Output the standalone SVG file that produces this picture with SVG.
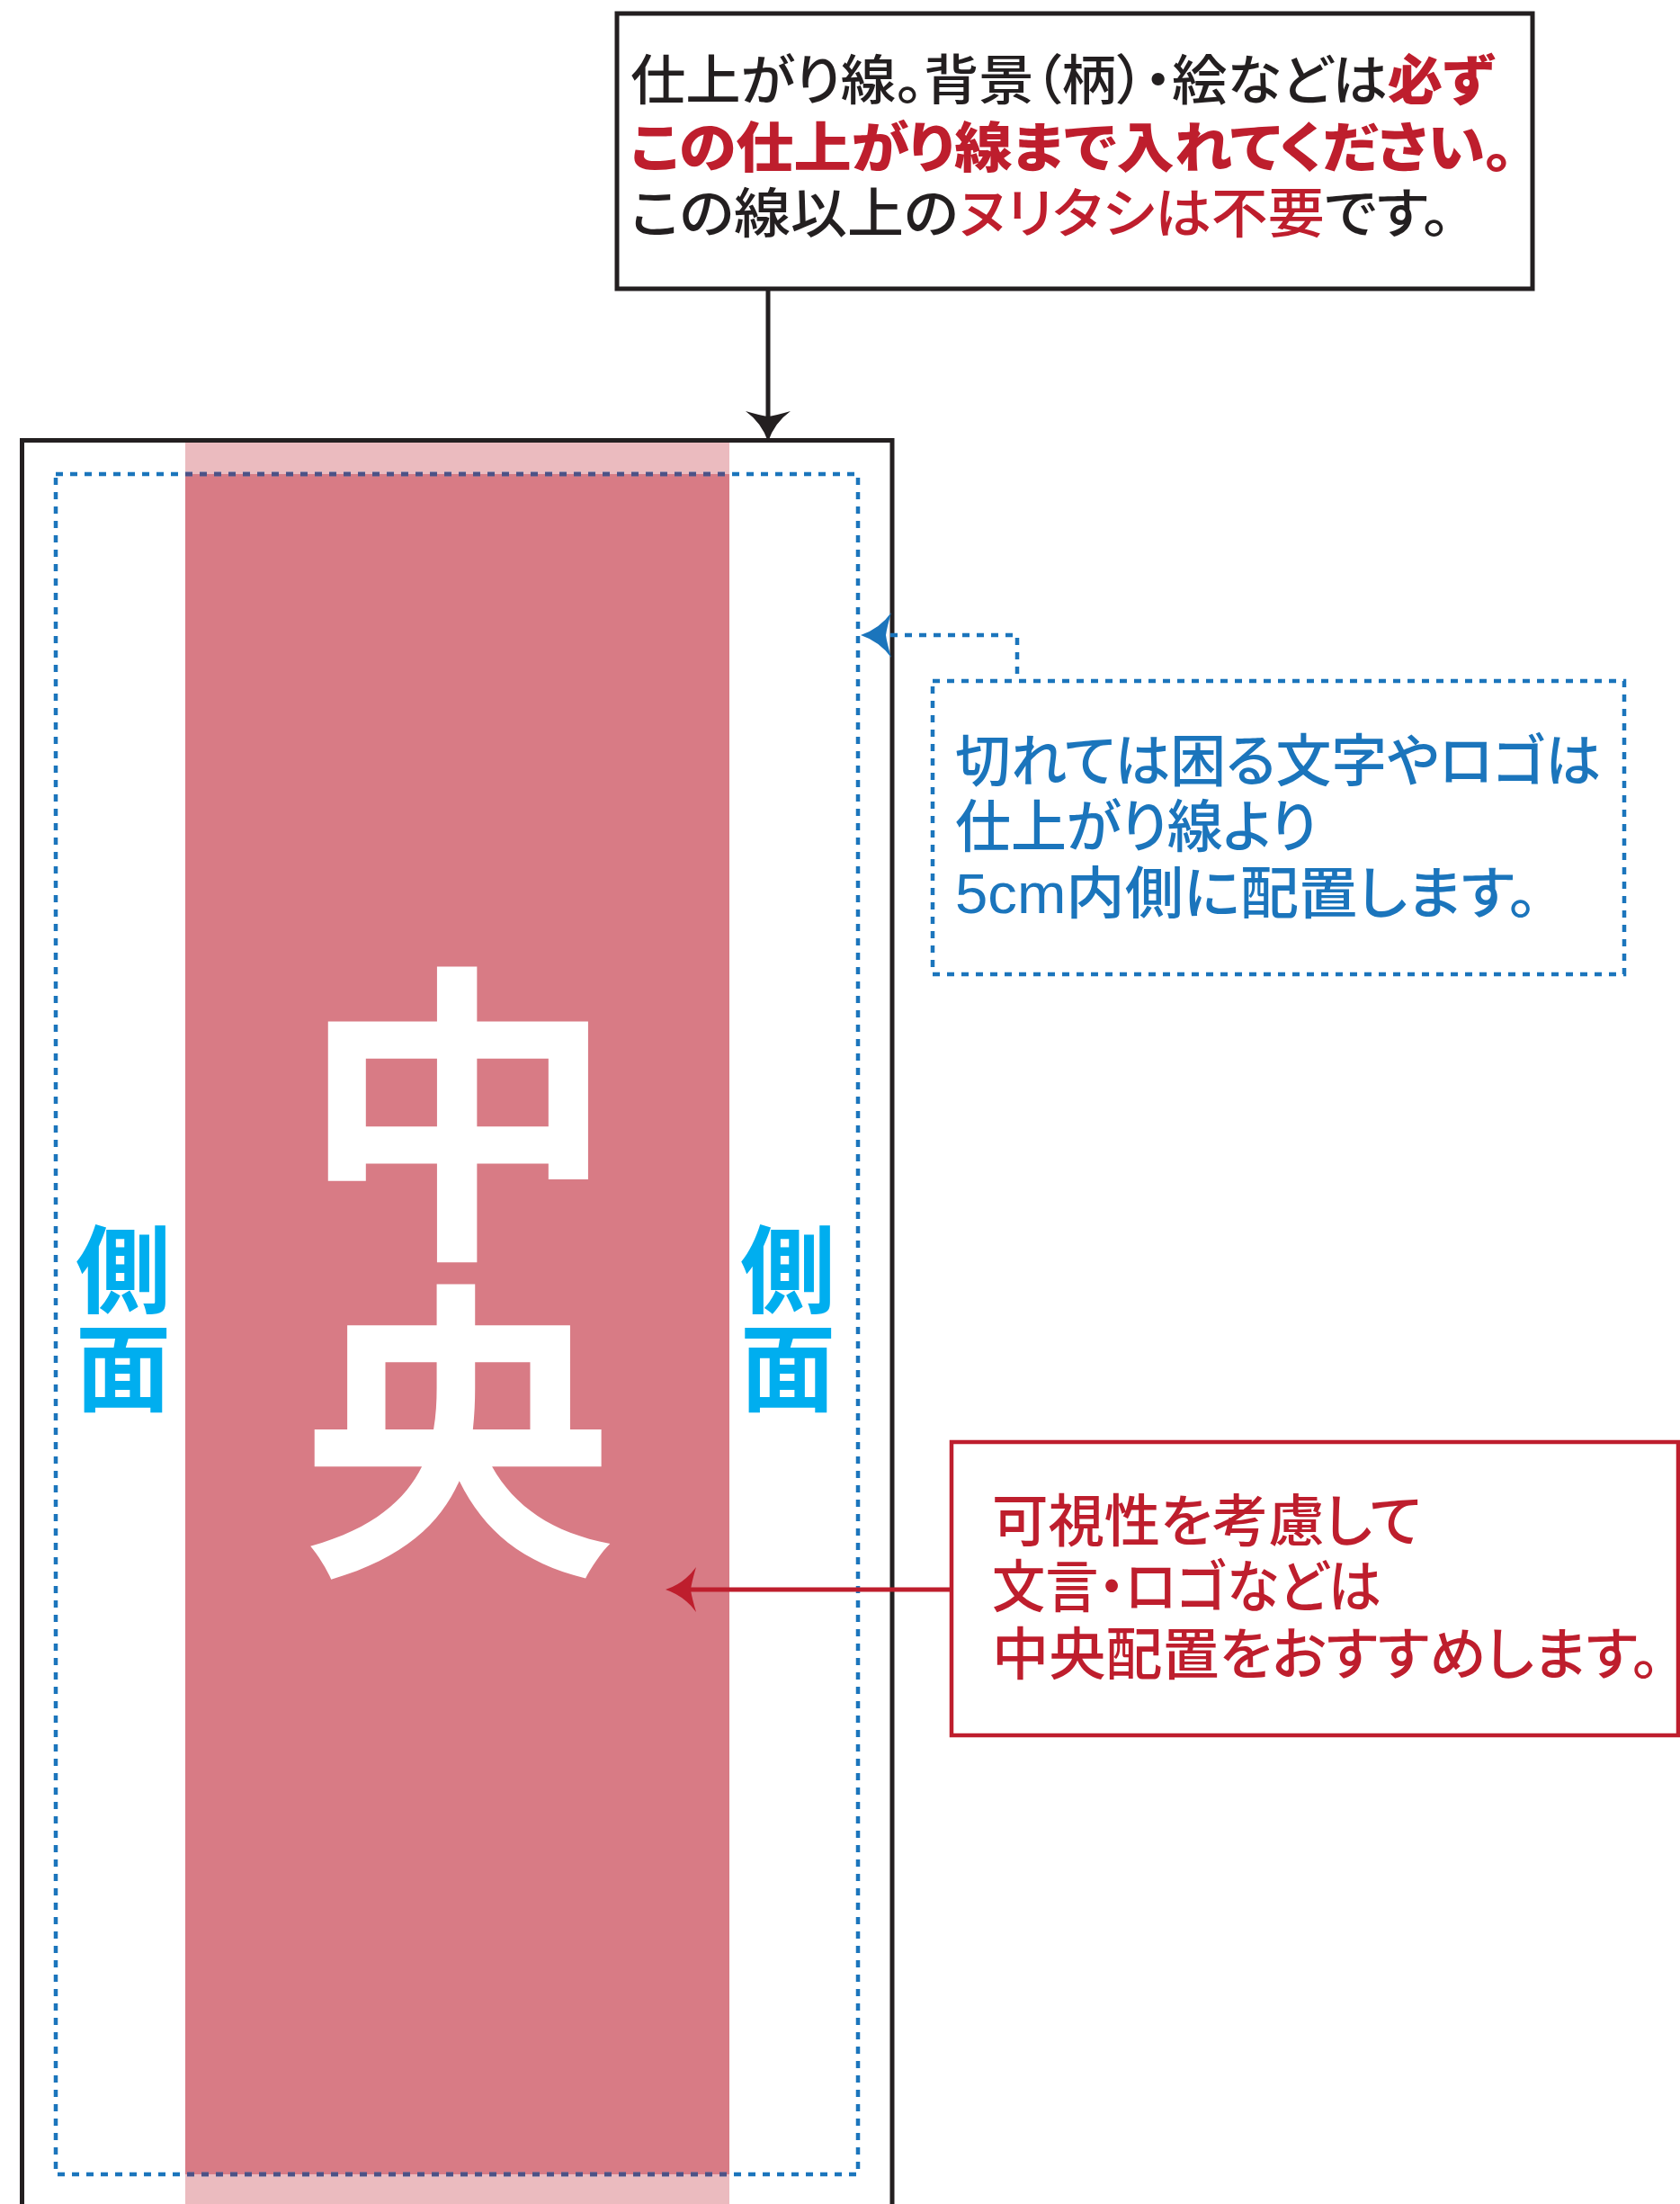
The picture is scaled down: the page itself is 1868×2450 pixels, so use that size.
<svg xmlns="http://www.w3.org/2000/svg" width="1868" height="2450" viewBox="0 0 1868 2450">
<style>
.jp{font-family:"Noto Sans CJK JP","Noto Sans CJK SC",sans-serif;font-feature-settings:"palt";}
.nt{font-family:"Liberation Sans","Noto Sans CJK JP","Noto Sans CJK SC",sans-serif;font-feature-settings:"palt";}
.blk{fill:#231F20;font-weight:500;font-size:60px;}
.r{fill:#BE1E2D;}
.b{font-weight:900;}
.blue{fill:#1B75BC;font-size:63px;font-weight:500;}
.redt{fill:#BE1E2D;font-size:63px;font-weight:500;}
.side{fill:#00AEEF;font-size:106px;font-weight:700;writing-mode:vertical-rl;font-feature-settings:normal;letter-spacing:3px;}
.big{fill:#FFFFFF;font-size:350px;font-weight:700;writing-mode:vertical-rl;font-feature-settings:normal;letter-spacing:3px;}
.dot{fill:none;stroke:#1B75BC;stroke-width:4.5;stroke-dasharray:8 8;}
</style>
<defs>
<path id="ah" d="M0,0 Q-7,-21 -25,-34 Q-8,-29 0,-28 Q8,-29 25,-34 Q7,-21 0,0Z"/>
<clipPath id="bandclip"><rect x="206" y="480" width="605" height="1970"/></clipPath>
</defs>
<rect x="0" y="0" width="1868" height="2450" fill="#FFFFFF"/>

<g id="sheet">
<rect x="206" y="492" width="605" height="1958" fill="#EBBBBF"/>
<rect x="206" y="527" width="605" height="1890" fill="#D87B85"/>
<path d="M24.5,2460 V489.5 H992 V2460" fill="none" stroke="#231F20" stroke-width="5"/>
</g>

<g id="safe-line">
<rect class="dot" x="62" y="527" width="892" height="1890"/>
<rect class="dot" x="62" y="527" width="892" height="1890" clip-path="url(#bandclip)" style="stroke:#4D5286"/>
</g>

<g id="center-label">
<text class="jp big" x="509" y="1064">中央</text>
</g>

<g id="side-left">
<text class="jp side" x="137" y="1358">側面</text>
</g>
<g id="side-right">
<text class="jp side" x="876" y="1358">側面</text>
</g>

<g id="note-trim">
<rect x="686" y="15" width="1018" height="306" fill="#FFFFFF" stroke="#231F20" stroke-width="5"/>
<text class="nt blk">
<tspan x="701" y="111" textLength="960" lengthAdjust="spacingAndGlyphs">仕上がり線。背景（柄）・絵などは<tspan class="r b">必ず</tspan></tspan>
<tspan x="701" y="186" textLength="982" lengthAdjust="spacingAndGlyphs" class="r b">この仕上がり線まで入れてください。</tspan>
<tspan x="701" y="259" textLength="912" lengthAdjust="spacingAndGlyphs">この線以上の<tspan class="r">ヌリタシは不要</tspan>です。</tspan>
</text>
</g>

<g id="note-safe">
<rect class="dot" x="1037" y="757" width="769" height="326"/>
<text class="nt blue">
<tspan x="1062" y="868" textLength="718" lengthAdjust="spacingAndGlyphs">切れては困る文字やロゴは</tspan>
<tspan x="1062" y="941" textLength="402" lengthAdjust="spacingAndGlyphs">仕上がり線より</tspan>
<tspan x="1062" y="1015" textLength="648" lengthAdjust="spacingAndGlyphs">5cm内側に配置します。</tspan>
</text>
</g>

<g id="note-center">
<rect x="1058" y="1603" width="808" height="326" fill="#FFFFFF" stroke="#BE1E2D" stroke-width="4.5"/>
<text class="nt redt">
<tspan x="1103" y="1713" textLength="478" lengthAdjust="spacingAndGlyphs">可視性を考慮して</tspan>
<tspan x="1103" y="1786" textLength="433" lengthAdjust="spacingAndGlyphs">文言・ロゴなどは</tspan>
<tspan x="1103" y="1861" textLength="743" lengthAdjust="spacingAndGlyphs">中央配置をおすすめします。</tspan>
</text>
</g>

<g id="connectors">
<line x1="854" y1="321" x2="854" y2="465" stroke="#231F20" stroke-width="5"/>
<use href="#ah" transform="translate(854,491)" fill="#231F20"/>
<path class="dot" d="M990,706 H1131 V757"/>
<use href="#ah" transform="translate(957,706) rotate(90)" fill="#1B75BC"/>
<line x1="765" y1="1767" x2="1058" y2="1767" stroke="#BE1E2D" stroke-width="5"/>
<use href="#ah" transform="translate(740,1767) rotate(90)" fill="#BE1E2D"/>
</g>
</svg>
